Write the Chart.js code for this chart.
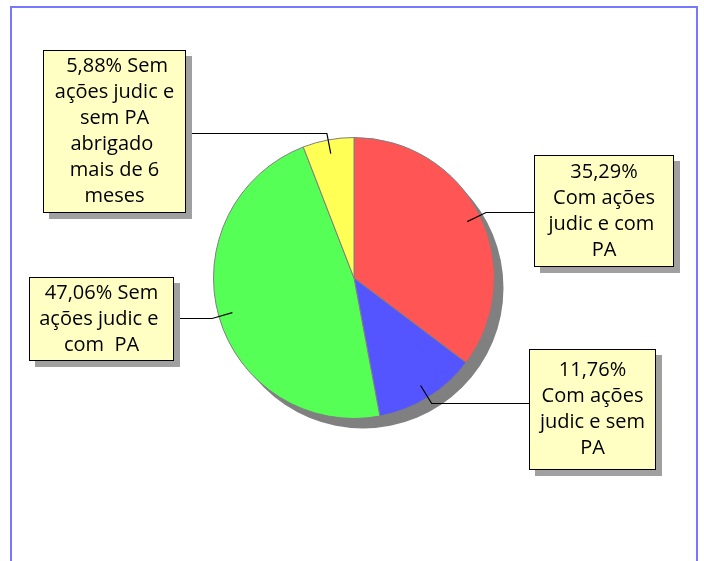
<!DOCTYPE html>
<html><head><meta charset="utf-8">
<script src="https://cdn.jsdelivr.net/npm/chart.js@4"></script>
<style>html,body{margin:0;padding:0;background:#fff}#wrap{width:704px;height:561px;position:relative}</style>
</head><body><div id="wrap"><canvas id="c" width="704" height="561"></canvas></div>
<script>
const categories = ['Com ações judic e com PA','Com ações judic e sem PA','Sem ações judic e com PA','Sem ações judic e sem PA abrigado mais de 6 meses'];
const values = [35.29, 11.76, 47.06, 5.88];
const labelLines = [
  ['35,29%','Com ações','judic e com ','PA'],
  ['11,76%','Com ações','judic e sem','PA'],
  ['47,06% Sem','ações judic e ','com  PA'],
  [' 5,88% Sem','ações judic e','sem PA','abrigado ','mais de 6','meses']
];
const sliceColors = ['#FF5555','#5555FF','#55FF55','#FFFF55'];
const boxLayout = [
  {x:534,y:155,w:140,h:112,side:'right'},
  {x:529,y:349,w:127,h:121,side:'right'},
  {x:29,y:277,w:145,h:84,side:'left'},
  {x:43,y:50,w:143,h:163,side:'left'}
];
const SH = 6;

const deco = {
  id:'deco',
  beforeDatasetsDraw(chart){
    const arc = chart.getDatasetMeta(0).data[0];
    const {x,y,outerRadius} = arc.getProps(['x','y','outerRadius'],true);
    const ctx = chart.ctx;
    ctx.save();
    ctx.fillStyle = '#808080';
    ctx.beginPath();
    ctx.arc(x+9, y+10, outerRadius, 0, Math.PI*2);
    ctx.fill();
    ctx.restore();
  },
  afterDatasetsDraw(chart){
    const ctx = chart.ctx;
    const arcs = chart.getDatasetMeta(0).data;
    ctx.save();
    arcs.forEach((arc,i)=>{
      const p = arc.getProps(['x','y','startAngle','endAngle','outerRadius'],true);
      const mid = (p.startAngle+p.endAngle)/2;
      const r = p.outerRadius;
      const ix = p.x + Math.cos(mid)*r*0.9, iy = p.y + Math.sin(mid)*r*0.9;
      const ex = p.x + Math.cos(mid)*r*1.05, ey = p.y + Math.sin(mid)*r*1.05;
      const b = boxLayout[i];
      const bx = b.side==='right' ? b.x : b.x + b.w + SH;
      ctx.strokeStyle = '#000';
      ctx.lineWidth = 1.2;
      ctx.beginPath();
      ctx.moveTo(ix, iy);
      ctx.lineTo(ex, Math.round(ey)+0.5);
      ctx.lineTo(bx, Math.round(ey)+0.5);
      ctx.stroke();
    });
    boxLayout.forEach((b,i)=>{
      ctx.fillStyle = '#A0A0A0';
      ctx.fillRect(b.x+SH, b.y+SH, b.w, b.h);
      ctx.fillStyle = '#FFFFC4';
      ctx.fillRect(b.x, b.y, b.w, b.h);
      ctx.strokeStyle = '#000';
      ctx.lineWidth = 1;
      ctx.strokeRect(b.x+0.5, b.y+0.5, b.w-1, b.h-1);
      const lines = labelLines[i];
      const lh = 26;
      ctx.fillStyle = '#000';
      ctx.font = '20px "Open Sans"';
      ctx.textAlign = 'center';
      ctx.textBaseline = 'middle';
      const cx = b.x + b.w/2;
      const first = b.y + b.h/2 - (lines.length-1)*lh/2;
      lines.forEach((t,k)=>ctx.fillText(t, cx, first + k*lh));
    });
    ctx.strokeStyle = '#7878FF';
    ctx.lineWidth = 2;
    ctx.strokeRect(11, 7, 686, 600);
    ctx.restore();
  }
};

new Chart(document.getElementById('c'), {
  type:'pie',
  data:{
    labels:categories,
    datasets:[{data:values, backgroundColor:sliceColors, borderColor:'#808080', borderWidth:1, hoverOffset:0}]
  },
  options:{
    responsive:false,
    animation:false,
    events:[],
    layout:{padding:{left:213,right:209,top:137,bottom:142}},
    plugins:{legend:{display:false}, tooltip:{enabled:false}}
  },
  plugins:[deco]
});
</script>
</body></html>
